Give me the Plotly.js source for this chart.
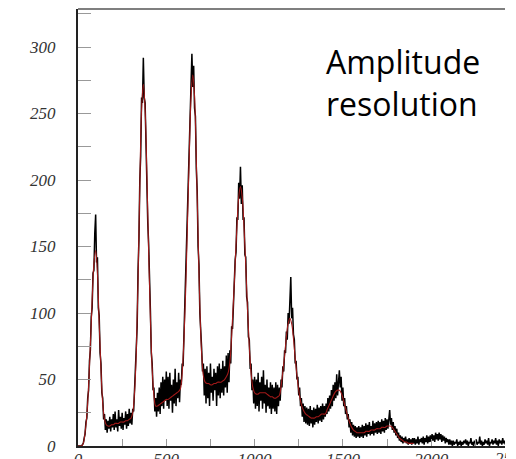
<!DOCTYPE html>
<html>
<head>
<meta charset="utf-8">
<script src="https://cdn.plot.ly/plotly-3.0.1.min.js"></script>
<style>
html,body{margin:0;padding:0;background:#fff;overflow:hidden;}
#chart{width:516px;height:459px;}
</style>
</head>
<body>
<div id="chart"></div>
<script>
// amplitude spectrum, bins of width 5 starting at 0
const binStart = 0;
const binStep = 5;
const counts = [
0,0,0,0,0,1,2,6,9,18,21,36,42,64,72,97,104,130,132,160,
174,138,142,104,98,70,62,40,36,20,24,12,20,10,19,13,22,11,20,14,
24,12,26,14,20,11,27,15,22,13,25,12,21,16,26,13,24,15,28,17,
25,16,28,26,44,50,74,90,132,155,200,218,262,258,292,262,258,224,210,168,
152,114,102,70,62,42,44,26,36,22,40,26,44,24,48,30,52,28,50,34,
56,30,52,28,55,34,46,25,50,32,58,30,48,36,55,33,50,46,62,60,
84,92,125,138,172,186,226,236,272,295,270,286,254,248,208,192,150,136,100,90,
74,56,62,38,58,32,60,36,55,30,62,40,52,34,58,42,55,30,60,38,
62,36,58,40,64,38,60,44,68,40,70,48,72,62,90,88,112,118,140,146,
172,170,198,186,210,182,196,170,172,144,142,112,108,82,80,58,62,42,50,32,
52,28,50,30,55,26,48,34,52,28,57,32,46,25,50,30,44,28,48,24,
46,28,44,26,48,24,46,30,44,34,50,44,60,56,72,70,86,80,100,92,
110,127,96,104,84,80,62,64,50,52,38,44,30,36,22,32,18,30,17,29,
16,28,15,30,17,27,14,29,16,28,18,31,17,29,19,30,18,32,20,30,
22,32,24,36,26,38,28,42,30,46,34,48,36,54,38,50,57,44,52,34,
44,30,36,24,30,20,24,14,20,10,18,8,16,7,15,6,14,7,15,6,
14,7,16,6,15,8,17,7,16,9,18,8,15,9,19,8,17,10,18,9,
19,10,18,9,20,11,19,10,21,12,20,13,22,27,16,21,12,18,10,15,
8,13,6,10,4,8,3,7,2,6,3,7,2,5,1,6,2,5,1,6,
2,6,1,5,2,7,1,5,3,6,2,7,1,6,3,8,2,7,3,8,
3,9,4,8,3,10,5,9,4,10,5,9,3,8,4,7,2,6,3,5,
1,5,1,4,0,4,1,3,2,5,0,3,1,4,0,3,1,4,2,5,
1,4,0,3,2,6,1,3,0,4,2,5,1,3,2,7,1,4,0,3,
1,5,2,4,1,6,0,3,2,5,1,4,2,6,1,4,0,5,2,4,
1,6,2,4,1
];
// fitted curve, sampled every 10 from 0
const fitStep = 10;
const fitValues = [
0,0,0,2,10,23,45,76,109,137,147,130,92,58,32,20,16,15,15,16,
16,17,17,17,18,18,18,19,19,20,
21,25,40,70,125,195,253,272,253,204,
146,96,58,38,30,30,31,32,33,34,
35,35,36,37,38,39,40,41,43,55,
80,118,168,218,262,279,263,215,158,105,
70,53,48,47,47,46,46,47,47,48,
48,48,49,50,52,55,63,83,108,137,
165,187,195,187,165,136,102,75,55,44,
40,39,39,40,40,40,40,39,38,37,
37,36,36,37,38,45,56,68,82,92,
96,92,81,66,53,42,34,29,26,24,
23,22,21,21,21,22,22,23,24,24,
24,27,30,33,36,39,41,42,42,40,
36,31,26,21,17,14,12,11,10,10,
10,10,10,11,11,11,12,12,12,13,
13,13,14,14,14,15,15,15,14,12,
10,8,6,5,4,3,3,2,2,2,2
];
const xTickVals = [0,500,1000,1500,2000];
const xTickText = ['0','500','1000','1500','2000'];
const yTickVals = [0,50,100,150,200,250,300];
const yTickText = ['0','50','100','150','200','250','300'];
const annotationText = 'Amplitude<br>resolution';
const cutTickText = '2500';

const binCenters = counts.map((_, i) => binStart + i * binStep);
const fitX = fitValues.map((_, i) => i * fitStep);

const tickFont = {family: 'Liberation Serif', size: 17, style: 'italic', color: '#333'};

const data = [
  {x: binCenters, y: counts, type: 'scatter', mode: 'lines',
   line: {color: '#000', width: 1.5, shape: 'linear'}, hoverinfo: 'skip'},
  {x: fitX, y: fitValues, type: 'scatter', mode: 'lines',
   line: {color: '#a01818', width: 1.1, shape: 'spline'}, hoverinfo: 'skip'}
];

const layout = {
  width: 516, height: 459,
  margin: {l: 78, r: 11, t: 9, b: 13, pad: 0},
  paper_bgcolor: '#fff', plot_bgcolor: '#fff',
  showlegend: false,
  xaxis: {
    range: [0, 2418], showgrid: false, zeroline: false,
    showline: true, linecolor: '#222', linewidth: 2,
    ticks: 'inside', ticklen: 7, tickcolor: '#999', tickwidth: 1,
    tickmode: 'array', tickvals: xTickVals, ticktext: xTickText,
    minor: {ticks: 'inside', ticklen: 7, tickcolor: '#999', dtick: 250, tick0: 0, showgrid: false},
    tickfont: tickFont, ticklabelstandoff: -3
  },
  yaxis: {
    range: [0, 328.6], showgrid: false, zeroline: false,
    showline: true, linecolor: '#222', linewidth: 2,
    ticks: 'inside', ticklen: 13, tickcolor: '#999', tickwidth: 1,
    tickmode: 'array', tickvals: yTickVals, ticktext: yTickText,
    minor: {ticks: 'inside', ticklen: 13, tickcolor: '#999', dtick: 25, tick0: 0, showgrid: false},
    tickfont: tickFont, ticklabelstandoff: 17
  },
  shapes: [
    {type: 'line', xref: 'paper', yref: 'paper', x0: 0, x1: 1, y0: 1, y1: 1,
     line: {color: '#555', width: 1.5}}
  ],
  annotations: [
    {text: annotationText, xref: 'paper', yref: 'paper', x: 0.576, y: 0.933,
     xanchor: 'left', yanchor: 'top', align: 'left', showarrow: false,
     font: {family: 'Open Sans', size: 32, color: '#000'}},
    {text: cutTickText, xref: 'paper', yref: 'paper', x: 2500 / 2418, y: 0,
     xanchor: 'center', yanchor: 'top', showarrow: false, yshift: -1, xshift: -7,
     font: tickFont},
    {text: ' ', xref: 'paper', yref: 'paper', x: 1, y: 0,
     xanchor: 'left', yanchor: 'top', showarrow: false, xshift: 1,
     width: 14, height: 16, bgcolor: '#fff', borderpad: 0, borderwidth: 0,
     font: {size: 10, color: '#fff'}}
  ]
};

Plotly.newPlot('chart', data, layout, {staticPlot: true, displayModeBar: false});
</script>
</body>
</html>
